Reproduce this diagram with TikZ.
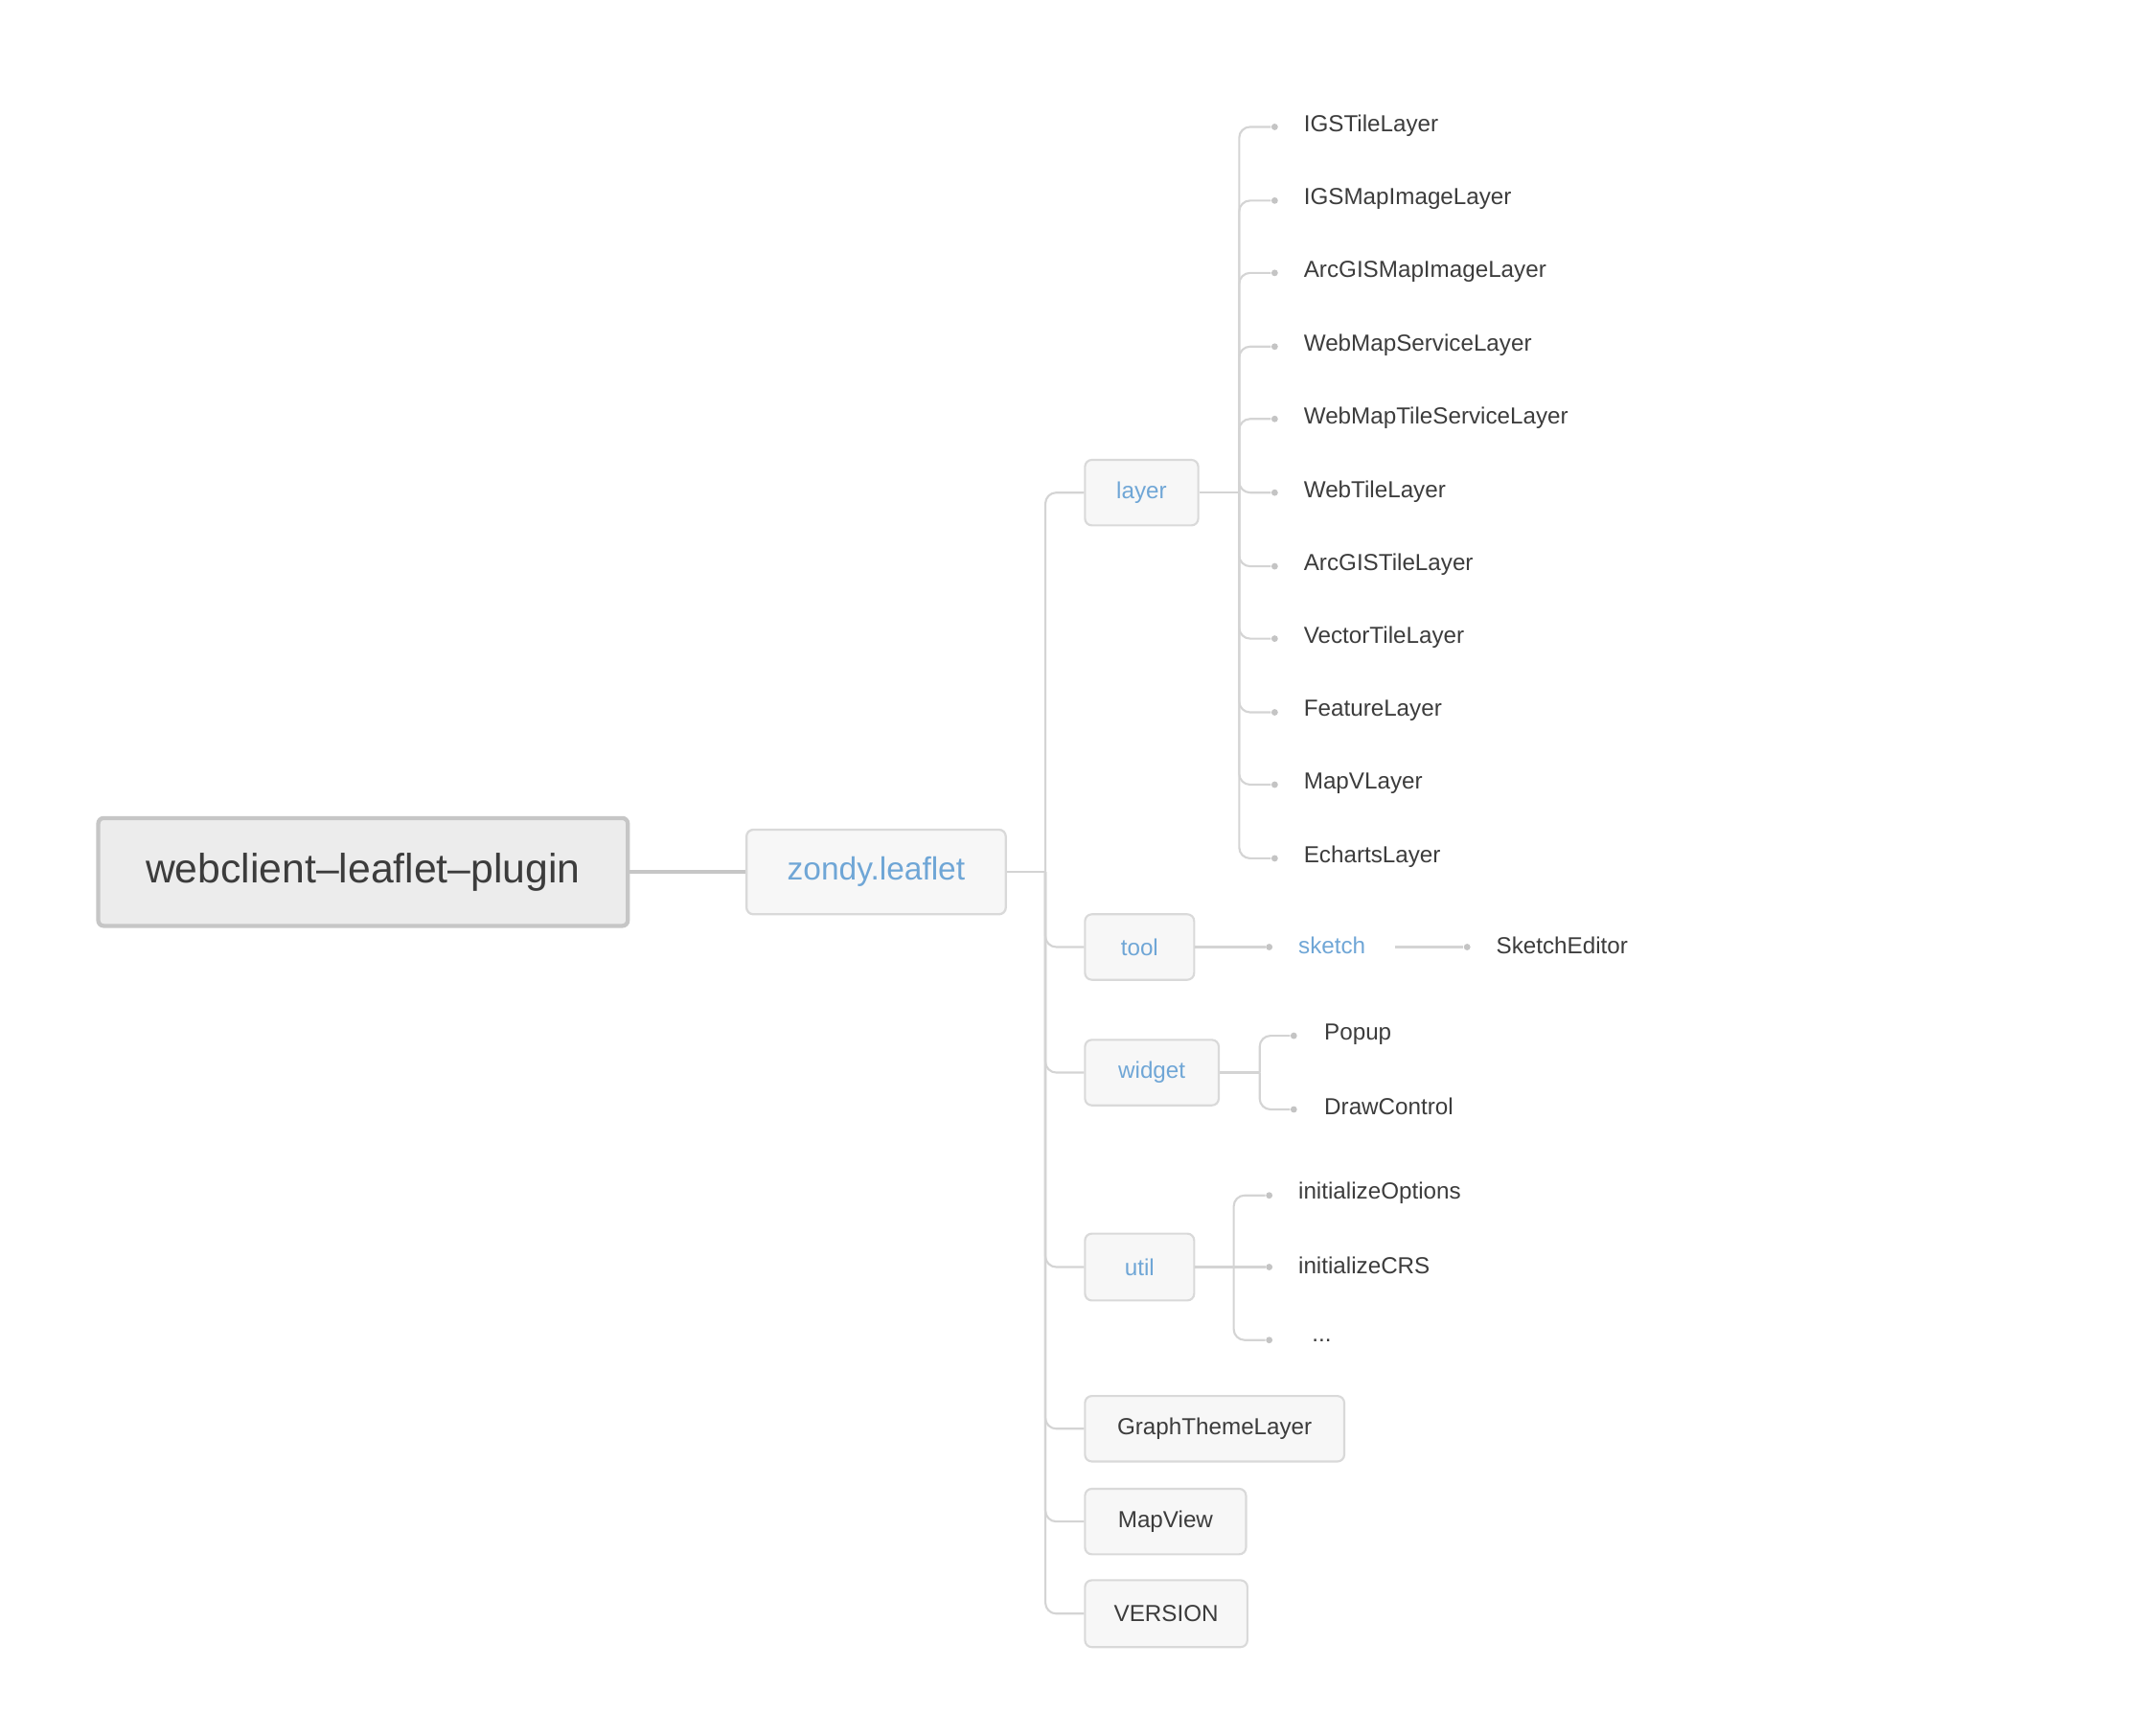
\documentclass[tikz,border=0pt]{standalone}
\usepackage{fontspec}
\setmainfont{Liberation Sans}
\definecolor{txt}{HTML}{3C3C3C}
\definecolor{blu}{HTML}{6FA6D6}
\definecolor{boxfill}{HTML}{F7F7F7}
\definecolor{boxline}{HTML}{D9D9D9}
\definecolor{rootfill}{HTML}{ECECEC}
\definecolor{rootline}{HTML}{C6C6C6}
\definecolor{conncol}{HTML}{D4D4D4}
\definecolor{dotcol}{HTML}{C4C4C4}
\def\pxu{0.5pt}
\tikzset{
  rootbox/.style={draw=rootline, fill=rootfill, line width=1.5pt, rounded corners=2pt, inner sep=0pt,
    font=\fontsize{15pt}{18pt}\selectfont, text=txt},
  mainbox/.style={draw=boxline, fill=boxfill, line width=0.8pt, rounded corners=2.5pt, inner sep=0pt,
    font=\fontsize{11.75pt}{14pt}\selectfont, text=blu},
  catbox/.style={draw=boxline, fill=boxfill, line width=0.75pt, rounded corners=2.5pt, inner sep=0pt,
    font=\fontsize{8.5pt}{10pt}\selectfont, text=blu},
  itembox/.style={catbox, text=txt},
  leaf/.style={anchor=west, inner sep=0pt, font=\fontsize{8.5pt}{10pt}\selectfont, text=txt},
  bleaf/.style={leaf, text=blu},
  dotnode/.style={circle, fill=dotcol, inner sep=0pt, minimum size=2.4pt},
  conn/.style={draw=conncol, line width=0.75pt, rounded corners=4pt},
  rootconn/.style={draw=rootline, line width=1.5pt}
}
\begin{document}
\begin{tikzpicture}[x=0.5pt,y=-0.5pt]
\useasboundingbox (0,0) rectangle (1560,1272);

% root and main
\node[rootbox, minimum width=388*\pxu, minimum height=79*\pxu] (root) at (266,639) {webclient–leaflet–plugin};
\node[mainbox, minimum width=190*\pxu, minimum height=62*\pxu] (zondy) at (642,639) {zondy.leaflet};
\draw[rootconn] (root.east) -- (zondy.west);
\coordinate (zj) at (766,639);
\draw[conn] (zondy.east) -- (zj);

% categories
\node[catbox, minimum width=83*\pxu, minimum height=48*\pxu] (layer) at (836.5,361) {layer};
\node[catbox, minimum width=80*\pxu, minimum height=48*\pxu] (tool) at (835,694) {tool};
\node[catbox, minimum width=98*\pxu, minimum height=48*\pxu] (widget) at (844,786) {widget};
\node[catbox, minimum width=80*\pxu, minimum height=49*\pxu] (util) at (835,928.5) {util};
\node[itembox, minimum width=190*\pxu, minimum height=48*\pxu] (gtl) at (890,1047) {GraphThemeLayer};
\node[itembox, minimum width=118*\pxu, minimum height=48*\pxu] (mapview) at (854,1115) {MapView};
\node[itembox, minimum width=119*\pxu, minimum height=49*\pxu] (version) at (854.5,1182.5) {VERSION};

\foreach \c in {layer,tool,widget,util,gtl,mapview,version}{
  \draw[conn] (zj) |- (\c.west);
}

% layer leaves
\coordinate (lj) at (908,361);
\draw[conn] (layer.east) -- (lj);
\foreach \n/\t/\y in {l1/IGSTileLayer/92, l2/IGSMapImageLayer/146, l3/ArcGISMapImageLayer/199,
  l4/WebMapServiceLayer/253, l5/WebMapTileServiceLayer/306, l6/WebTileLayer/360,
  l7/ArcGISTileLayer/414, l8/VectorTileLayer/467, l9/FeatureLayer/521, l10/MapVLayer/574,
  l11/EchartsLayer/628}{
  \node[dotnode] (d\n) at (934,\y+1) {};
  \node[leaf] (\n) at (955,\y) {\t};
  \draw[conn] (lj) |- (d\n);
}

% tool -> sketch -> SketchEditor
\node[dotnode] (dsk) at (930,694) {};
\node[bleaf] (sketch) at (951,693) {sketch};
\draw[conn] (tool.east) -- (dsk);
\coordinate (skout) at (1022,694);
\node[dotnode] (dse) at (1075,694) {};
\node[leaf] (sketched) at (1096,693) {SketchEditor};
\draw[conn] (skout) -- (dse);

% widget leaves
\coordinate (wj) at (923,786);
\draw[conn] (widget.east) -- (wj);
\node[dotnode] (dpop) at (948,759) {};
\node[leaf] (popup) at (970,758) {Popup};
\node[dotnode] (ddc) at (948,813) {};
\node[leaf] (drawctl) at (970,811) {DrawControl};
\draw[conn] (wj) |- (dpop);
\draw[conn] (wj) |- (ddc);

% util leaves
\coordinate (uj) at (904,928.5);
\draw[conn] (util.east) -- (uj);
\node[dotnode] (dio) at (930,876) {};
\node[leaf] (initopt) at (951,874) {initializeOptions};
\node[dotnode] (dic) at (930,928.5) {};
\node[leaf] (initcrs) at (951,927) {initializeCRS};
\node[dotnode] (ddots) at (930,982) {};
\node[leaf] (etc) at (961,982) {...};
\draw[conn] (uj) |- (dio);
\draw[conn] (uj) -- (dic);
\draw[conn] (uj) |- (ddots);
\end{tikzpicture}
\end{document}
